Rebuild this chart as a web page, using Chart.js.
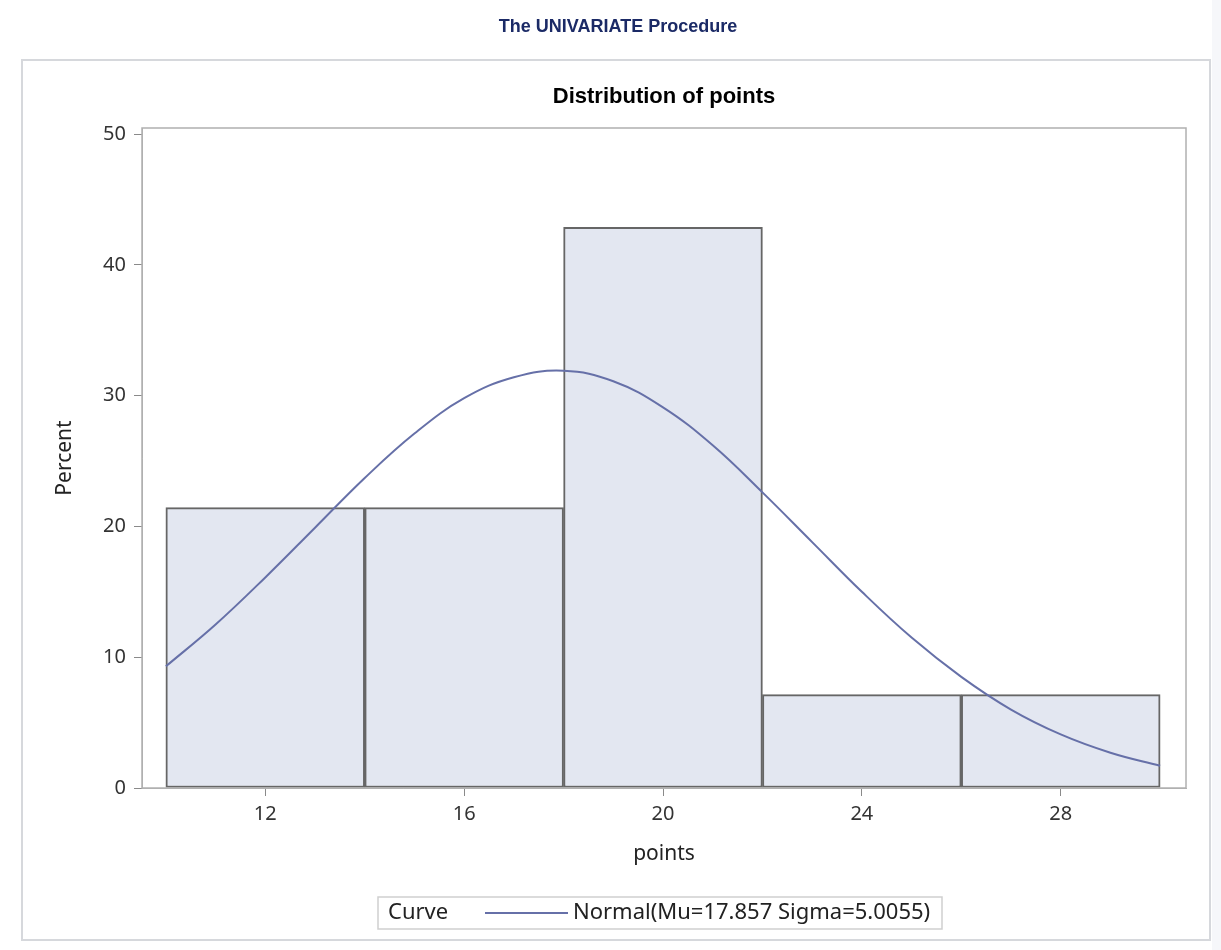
<!DOCTYPE html>
<html>
<head>
<meta charset="utf-8">
<script src="https://cdn.jsdelivr.net/npm/chart.js@4.4.1/dist/chart.umd.min.js"></script>
<style>
  html, body { margin: 0; padding: 0; background: #f6f7fa; }
  #wrap { width: 1221px; height: 950px; }
</style>
</head>
<body>
<div id="wrap"><canvas id="hist" width="1221" height="950"></canvas></div>
<script>
// histogram bins (midpoints) and percent per bin
const binMids = [12, 16, 20, 24, 28];
const binPercent = [21.43, 21.43, 42.86, 7.14, 7.14];

// fitted normal curve
const curveX = [10, 11, 12, 13, 14, 15, 16, 17, 18, 19, 20, 21, 22, 23, 24, 25, 26, 27, 28, 29, 30];
const curveY = [9.3, 12.5, 16.1, 19.9, 23.7, 27.1, 29.8, 31.4, 31.9, 31.1, 29.1, 26.2, 22.6, 18.8, 15.0, 11.5, 8.5, 6.0, 4.1, 2.7, 1.7];

const xTicks = [12, 16, 20, 24, 28];
const yTicks = [0, 10, 20, 30, 40, 50];

const pageTitle = 'The UNIVARIATE Procedure';
const chartTitle = 'Distribution of points';
const legendTitle = 'Curve';
const legendLabel = 'Normal(Mu=17.857 Sigma=5.0055)';

const sans = '"Liberation Sans", Arial, sans-serif';
const tickFont = '"Noto Sans", "Open Sans", sans-serif';

const decor = {
    id: 'decor',
    beforeDraw(chart) {
        const c = chart.ctx;
        const a = chart.chartArea;
        c.save();
        c.fillStyle = '#ffffff';
        c.fillRect(0, 0, 1212, 950);
        c.strokeStyle = '#d6d8dc';
        c.lineWidth = 2;
        c.strokeRect(22, 60, 1188, 880);

        c.fillStyle = '#1b2a66';
        c.font = 'bold 18px ' + sans;
        c.textAlign = 'center';
        c.textBaseline = 'middle';
        c.fillText(pageTitle, 618, 27);

        c.fillStyle = '#000';
        c.font = 'bold 22px ' + sans;
        c.fillText(chartTitle, (a.left + a.right) / 2, 97);
        c.restore();
    },
    afterDraw(chart) {
        const c = chart.ctx;
        const a = chart.chartArea;
        c.save();
        c.strokeStyle = '#b0b0b0';
        c.lineWidth = 1.5;
        c.strokeRect(a.left, a.top, a.right - a.left, a.bottom - a.top);

        // legend
        c.strokeStyle = '#cfcfcf';
        c.lineWidth = 1.5;
        c.strokeRect(378, 897, 564, 32);
        c.fillStyle = '#222';
        c.font = '22px ' + tickFont;
        c.textBaseline = 'middle';
        c.textAlign = 'left';
        c.fillText(legendTitle, 388, 913);
        c.strokeStyle = '#6670a8';
        c.lineWidth = 2;
        c.beginPath();
        c.moveTo(485, 913);
        c.lineTo(568, 913);
        c.stroke();
        c.fillText(legendLabel, 573, 913);
        c.restore();
    }
};

new Chart(document.getElementById('hist').getContext('2d'), {
    data: {
        datasets: [{
            type: 'line',
            label: legendLabel,
            data: curveX.map((x, i) => ({ x, y: curveY[i] })),
            borderColor: '#6670a8',
            borderWidth: 2,
            pointRadius: 0,
            tension: 0.4,
            fill: false,
            order: 1
        }, {
            type: 'bar',
            label: 'Percent',
            data: binMids.map((x, i) => ({ x, y: binPercent[i] })),
            backgroundColor: '#e3e7f1',
            borderColor: '#666666',
            borderWidth: 2,
            borderSkipped: false,
            barPercentage: 1,
            categoryPercentage: 1,
            order: 2
        }]
    },
    options: {
        responsive: false,
        animation: false,
        layout: { padding: { top: 128, left: 48, right: 35, bottom: 79 } },
        plugins: {
            legend: { display: false },
            tooltip: { enabled: false }
        },
        scales: {
            x: {
                type: 'linear',
                offset: false,
                min: 9.52,
                max: 30.52,
                afterBuildTicks: s => { s.ticks = xTicks.map(v => ({ value: v })); },
                afterFit: s => { s.height = 83; },
                grid: { offset: false, drawOnChartArea: false, tickLength: 8, color: '#8a8a8a' },
                border: { display: true, color: '#b0b0b0' },
                ticks: { color: '#333', font: { size: 20, family: tickFont }, padding: 6 },
                title: { display: true, text: 'points', color: '#222', font: { size: 21, family: tickFont } }
            },
            y: {
                min: 0,
                max: 50.46,
                afterBuildTicks: s => { s.ticks = yTicks.map(v => ({ value: v })); },
                afterFit: s => { s.width = 94; },
                grid: { drawOnChartArea: false, tickLength: 8, color: '#8a8a8a' },
                border: { display: true, color: '#b0b0b0' },
                ticks: { color: '#333', font: { size: 20, family: tickFont }, padding: 8 },
                title: { display: true, text: 'Percent', color: '#222', font: { size: 21, family: tickFont } }
            }
        }
    },
    plugins: [decor]
});
</script>
</body>
</html>
